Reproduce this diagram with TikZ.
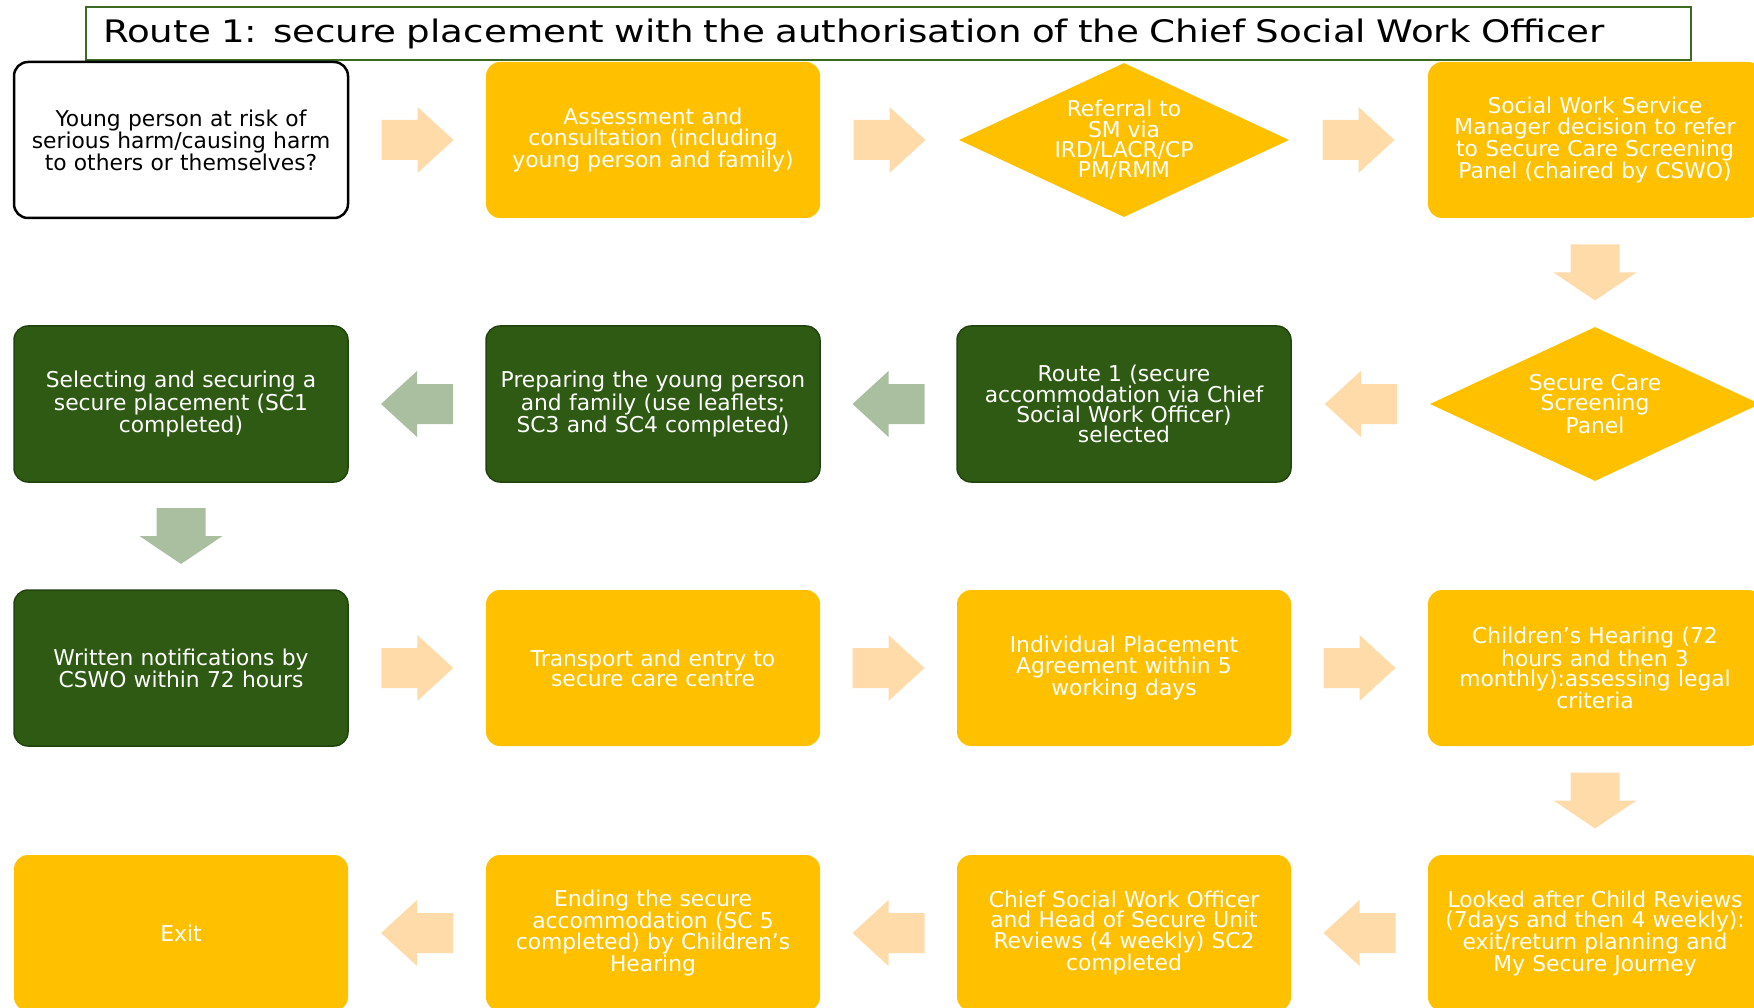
\documentclass[tikz,border=0pt]{standalone}
\usepackage{fontspec}
\setmainfont{DejaVu Sans}
\newfontfamily\headfont{DejaVu Sans}[FakeStretch=1.2]
\usetikzlibrary{calc}
\usetikzlibrary{shapes.geometric}

\definecolor{gold}{HTML}{FFC000}
\definecolor{forest}{HTML}{2F5A14}
\definecolor{forestline}{HTML}{22420E}
\definecolor{peach}{HTML}{FFDBAA}
\definecolor{sage}{HTML}{A9BFA0}
\definecolor{headline}{HTML}{3C6A22}

\newcommand{\boxfont}{\fontsize{21.8pt}{20.2pt}\selectfont}

\begin{document}
\begin{tikzpicture}[x=1pt,y=-1pt,
    stepbox/.style={rounded corners=14pt, minimum width=334pt, minimum height=156pt,
        text width=322pt, align=center, inner sep=0pt, font=\boxfont},
    goldbox/.style={stepbox, fill=gold, text=white},
    greenbox/.style={stepbox, fill=forest, draw=forestline, line width=1.5pt, text=white},
    startbox/.style={stepbox, fill=white, draw=black, line width=2.5pt},
    choice/.style={diamond, aspect=2.14, minimum width=330pt, minimum height=154pt,
        inner sep=0pt, fill=gold, text=white, align=center, font=\boxfont},
    headbox/.style={draw=headline, line width=2pt, fill=white, minimum width=1605pt,
        minimum height=53pt, text width=1571pt, align=left, inner sep=0pt,
        font={\headfont\fontsize{31pt}{34pt}\selectfont}},
    sidearrow/.pic={\fill (-36,-20) -- (0,-20) -- (0,-33) -- (36,0) -- (0,33) -- (0,20) -- (-36,20) -- cycle;},
    downarrow/.pic={\fill (-24.5,-28) -- (24.5,-28) -- (24.5,0) -- (41.5,0) -- (0,28) -- (-41.5,0) -- (-24.5,0) -- cycle;}
]
\clip (0,0) rectangle (1754,1008);

\node[headbox] (head) at (888.5,33.5) {Route 1: secure placement with the authorisation of the Chief Social Work Officer};

% row 1
\node[startbox] (young) at (181,140) {Young person at risk of\\serious harm/causing harm\\to others or themselves?};
\node[goldbox] (assess) at (653,140) {Assessment and\\consultation (including\\young person and family)};
\node[choice] (referral) at (1124,140) {Referral to\\SM via\\IRD/LACR/CP\\PM/RMM};
\node[goldbox] (manager) at (1595,140) {Social Work Service\\Manager decision to refer\\to Secure Care Screening\\Panel (chaired by CSWO)};

% row 2
\node[choice] (panel) at (1595,404) {Secure Care\\Screening\\Panel};
\node[greenbox] (route) at (1124,404) {Route 1 (secure\\accommodation via Chief\\Social Work Officer)\\selected};
\node[greenbox] (prepare) at (653,404) {Preparing the young person\\and family (use leaflets;\\SC3 and SC4 completed)};
\node[greenbox] (select) at (181,404) {Selecting and securing a\\secure placement (SC1\\completed)};

% row 3
\node[greenbox] (notify) at (181,668) {Written notifications by\\CSWO within 72 hours};
\node[goldbox] (transport) at (653,668) {Transport and entry to\\secure care centre};
\node[goldbox] (agreement) at (1124,668) {Individual Placement\\Agreement within 5\\working days};
\node[goldbox] (hearing) at (1595,668) {Children’s Hearing (72\\hours and then 3\\monthly):assessing legal\\criteria};

% row 4
\node[goldbox] (reviews) at (1595,933) {Looked after Child Reviews\\(7days and then 4 weekly):\\exit/return planning and\\My Secure Journey};
\node[goldbox] (cswo) at (1124,933) {Chief Social Work Officer\\and Head of Secure Unit\\Reviews (4 weekly) SC2\\completed};
\node[goldbox] (ending) at (653,933) {Ending the secure\\accommodation (SC 5\\completed) by Children’s\\Hearing};
\node[goldbox] (exit) at (181,933) {Exit};

% block arrows between the steps
\pic[fill=peach] at ($(young.east)!.5!(assess.west)$) {sidearrow};
\pic[fill=peach] at ($(assess.east)!.5!(referral.west)$) {sidearrow};
\pic[fill=peach] at ($(referral.east)!.5!(manager.west)$) {sidearrow};
\pic[fill=peach] at ($(manager.south)!.5!(panel.north)$) {downarrow};
\pic[fill=peach, rotate=180] at ($(panel.west)!.5!(route.east)$) {sidearrow};
\pic[fill=sage, rotate=180] at ($(route.west)!.5!(prepare.east)$) {sidearrow};
\pic[fill=sage, rotate=180] at ($(prepare.west)!.5!(select.east)$) {sidearrow};
\pic[fill=sage] at ($(select.south)!.5!(notify.north)$) {downarrow};
\pic[fill=peach] at ($(notify.east)!.5!(transport.west)$) {sidearrow};
\pic[fill=peach] at ($(transport.east)!.5!(agreement.west)$) {sidearrow};
\pic[fill=peach] at ($(agreement.east)!.5!(hearing.west)$) {sidearrow};
\pic[fill=peach] at ($(hearing.south)!.5!(reviews.north)$) {downarrow};
\pic[fill=peach, rotate=180] at ($(reviews.west)!.5!(cswo.east)$) {sidearrow};
\pic[fill=peach, rotate=180] at ($(cswo.west)!.5!(ending.east)$) {sidearrow};
\pic[fill=peach, rotate=180] at ($(ending.west)!.5!(exit.east)$) {sidearrow};

\end{tikzpicture}
\end{document}
